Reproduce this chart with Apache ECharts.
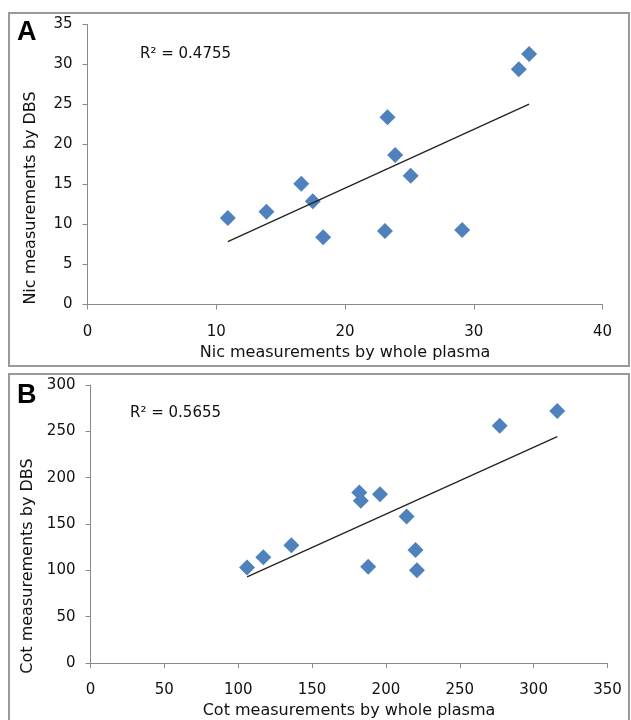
<!DOCTYPE html>
<html>
<head>
<meta charset="utf-8">
<script src="https://cdn.jsdelivr.net/npm/echarts@6/dist/echarts.min.js"></script>
<style>
  html, body { margin: 0; padding: 0; background: #fff; }
  #chart { width: 631px; height: 720px; }
</style>
</head>
<body>
<div id="chart"></div>
<script>
// panel A: nicotine
var nicPlasma = [10.9, 13.9, 16.6, 17.5, 18.3, 23.3, 23.1, 23.9, 25.1, 29.1, 33.5, 34.3];
var nicDbs = [10.8, 11.6, 15.1, 12.9, 8.4, 23.4, 9.2, 18.7, 16.1, 9.3, 29.4, 31.3];
var nicR2 = 'R² = 0.4755';
// panel B: cotinine
var cotPlasma = [106, 117, 136, 182, 183, 196, 188, 214, 220, 221, 277, 316];
var cotDbs = [103, 114, 127, 184, 175, 182, 104, 158, 122, 100, 256, 272];
var cotR2 = 'R² = 0.5655';

var FONT = 'DejaVu Sans';

// least squares trendline between min x and max x
function trend(xs, ys) {
  var n = xs.length, sx = 0, sy = 0, sxx = 0, sxy = 0;
  for (var i = 0; i < n; i++) {
    sx += xs[i]; sy += ys[i]; sxx += xs[i] * xs[i]; sxy += xs[i] * ys[i];
  }
  var b = (n * sxy - sx * sy) / (n * sxx - sx * sx);
  var a = (sy - b * sx) / n;
  var x0 = Math.min.apply(null, xs), x1 = Math.max.apply(null, xs);
  return [[x0, a + b * x0], [x1, a + b * x1]];
}
function pairs(xs, ys) {
  return xs.map(function (x, i) { return [x, ys[i]]; });
}

var axisLine = { lineStyle: { color: '#8a8a8a', width: 1 } };
var axisTick = { lineStyle: { color: '#8a8a8a', width: 1 }, length: 5 };
var labelStyle = { color: '#111', fontFamily: FONT, fontSize: 15 };

function xAx(idx, max, interval) {
  return {
    type: 'value', gridIndex: idx, min: 0, max: max, interval: interval,
    axisLine: axisLine, axisTick: axisTick, splitLine: { show: false },
    axisLabel: Object.assign({ margin: 20 }, labelStyle),
    name: idx === 0 ? 'Nic measurements by whole plasma' : 'Cot measurements by whole plasma',
    nameLocation: 'middle', nameGap: 40,
    nameTextStyle: { color: '#111', fontFamily: FONT, fontSize: 16 }
  };
}
function yAx(idx, max, interval) {
  return {
    type: 'value', gridIndex: idx, min: 0, max: max, interval: interval,
    axisLine: Object.assign({ show: true }, axisLine), axisTick: Object.assign({ show: true }, axisTick),
    splitLine: { show: false },
    axisLabel: Object.assign({ margin: 15 }, labelStyle)
  };
}

var myChart = echarts.init(document.getElementById('chart'));
var option = {
  animation: false,
  grid: [
    { left: 87.5, top: 24.5, width: 515, height: 280 },
    { left: 90.5, top: 385, width: 517, height: 280 }
  ],
  xAxis: [xAx(0, 40, 10), xAx(1, 350, 50)],
  yAxis: [yAx(0, 35, 5), yAx(1, 300, 50)],
  graphic: [
    { type: 'rect', shape: { x: 9, y: 13, width: 620, height: 353 }, style: { fill: 'none', stroke: '#9a9a9a', lineWidth: 2 } },
    { type: 'rect', shape: { x: 9, y: 374, width: 620, height: 360 }, style: { fill: 'none', stroke: '#9a9a9a', lineWidth: 2 } },
    { type: 'text', x: 17, y: 19, style: { text: 'A', font: 'bold 27px "Liberation Sans"', fill: '#000' } },
    { type: 'text', x: 17, y: 382, style: { text: 'B', font: 'bold 27px "Liberation Sans"', fill: '#000' } },
    { type: 'text', x: 140, y: 54, style: { text: nicR2, font: '15px "DejaVu Sans"', fill: '#111', verticalAlign: 'middle' } },
    { type: 'text', x: 130, y: 413, style: { text: cotR2, font: '15px "DejaVu Sans"', fill: '#111', verticalAlign: 'middle' } },
    { type: 'text', x: 31, y: 198, rotation: Math.PI / 2, style: { text: 'Nic measurements by DBS', font: '16px "DejaVu Sans"', fill: '#111', align: 'center', verticalAlign: 'middle' } },
    { type: 'text', x: 28, y: 566, rotation: Math.PI / 2, style: { text: 'Cot measurements by DBS', font: '16px "DejaVu Sans"', fill: '#111', align: 'center', verticalAlign: 'middle' } }
  ],
  series: [
    {
      type: 'scatter', xAxisIndex: 0, yAxisIndex: 0, symbol: 'diamond', symbolSize: 16,
      itemStyle: { color: '#4f81bd', opacity: 1 }, data: pairs(nicPlasma, nicDbs)
    },
    {
      type: 'line', xAxisIndex: 0, yAxisIndex: 0, showSymbol: false, silent: true,
      lineStyle: { color: '#222', width: 1.3 }, data: trend(nicPlasma, nicDbs)
    },
    {
      type: 'scatter', xAxisIndex: 1, yAxisIndex: 1, symbol: 'diamond', symbolSize: 16,
      itemStyle: { color: '#4f81bd', opacity: 1 }, data: pairs(cotPlasma, cotDbs)
    },
    {
      type: 'line', xAxisIndex: 1, yAxisIndex: 1, showSymbol: false, silent: true,
      lineStyle: { color: '#222', width: 1.3 }, data: trend(cotPlasma, cotDbs)
    }
  ]
};
option && myChart.setOption(option);
</script>
</body>
</html>
